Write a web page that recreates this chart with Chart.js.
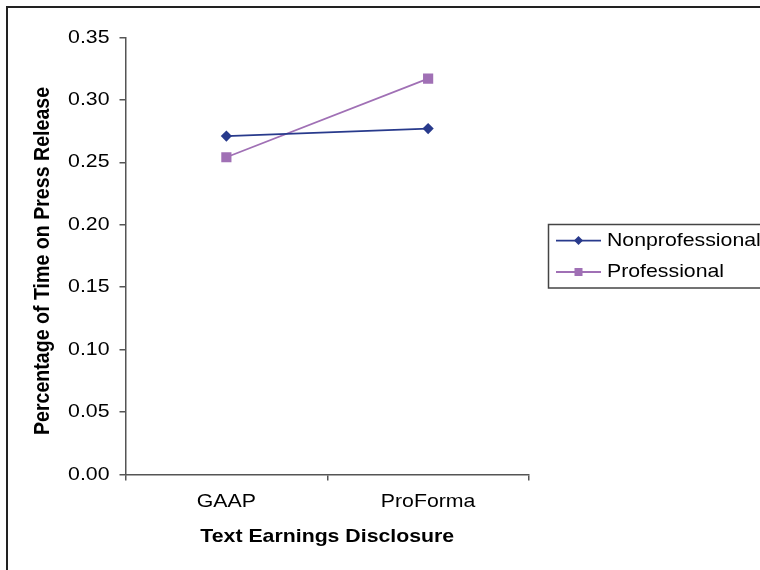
<!DOCTYPE html>
<html>
<head>
<meta charset="utf-8">
<script src="https://cdn.jsdelivr.net/npm/chart.js@4/dist/chart.umd.min.js"></script>
<style>
  html, body { margin: 0; padding: 0; background: #ffffff; }
  #wrap { position: relative; width: 760px; height: 570px; overflow: hidden; }
  canvas { display: block; }
</style>
</head>
<body>
<div id="wrap"><canvas id="chart" width="760" height="570"></canvas></div>
<script>
// Categories and series values
const categories = ['GAAP', 'ProForma'];
const nonprofessional = [0.271, 0.277];
const professional = [0.254, 0.317];
const seriesNames = ['Nonprofessional', 'Professional'];
const yTickValues = [0, 0.05, 0.10, 0.15, 0.20, 0.25, 0.30, 0.35];
const xAxisTitle = 'Text Earnings Disclosure';
const yAxisTitle = 'Percentage of Time on Press Release';

const NAVY = '#283a8c';
const LILAC = '#a070b5';
const AXIS = '#555555';
const FONT = '"Liberation Sans", Arial, sans-serif';
const SX = 1.12; // horizontal text stretch

function wideText(ctx, text, x, y, o) {
  ctx.save();
  ctx.translate(x, y);
  ctx.scale(SX, 1);
  if (o.rotate) ctx.rotate(o.rotate);
  ctx.font = o.font;
  ctx.fillStyle = o.color || '#000';
  ctx.textAlign = o.align || 'center';
  ctx.textBaseline = 'middle';
  ctx.fillText(text, 0, 0);
  ctx.restore();
}

// Labels, titles, legend and frame
const decorations = {
  id: 'decorations',
  afterDraw(chart) {
    const ctx = chart.ctx;
    const xs = chart.scales.x, ys = chart.scales.y;
    const reg = '19px ' + FONT, bold = 'bold 19px ' + FONT;

    yTickValues.forEach(v => {
      wideText(ctx, v.toFixed(2), ys.right - 16, ys.getPixelForValue(v), {font: reg, align: 'right'});
    });
    categories.forEach((c, i) => {
      wideText(ctx, c, xs.getPixelForValue(i), 502, {font: reg});
    });
    wideText(ctx, xAxisTitle, (xs.left + xs.right) / 2, 537, {font: bold});
    wideText(ctx, yAxisTitle, 42.5, 261, {font: 'bold 19.6px ' + FONT, rotate: -Math.PI / 2});

    // legend box
    ctx.save();
    ctx.strokeStyle = '#444';
    ctx.lineWidth = 1.5;
    ctx.strokeRect(548.5, 224.5, 260, 63.5);
    const rows = [240.6, 272];
    chart.data.datasets.forEach((ds, i) => {
      const y = rows[i];
      ctx.strokeStyle = ds.borderColor;
      ctx.lineWidth = ds.borderWidth;
      ctx.beginPath();
      ctx.moveTo(556, y); ctx.lineTo(601, y); ctx.stroke();
      ctx.fillStyle = ds.backgroundColor;
      const cx = 578.5;
      if (ds.pointStyle === 'rectRot') {
        ctx.beginPath();
        ctx.moveTo(cx - 4.5, y); ctx.lineTo(cx, y - 4.5); ctx.lineTo(cx + 4.5, y); ctx.lineTo(cx, y + 4.5);
        ctx.closePath(); ctx.fill();
      } else {
        ctx.fillRect(cx - 4, y - 4, 8, 8);
      }
      wideText(ctx, ds.label, 607, y, {font: reg, align: 'left'});
    });
    ctx.restore();

    // outer frame
    ctx.save();
    ctx.strokeStyle = '#222';
    ctx.lineWidth = 2;
    ctx.beginPath();
    ctx.moveTo(7, 600); ctx.lineTo(7, 7); ctx.lineTo(800, 7);
    ctx.stroke();
    ctx.restore();
  }
};

new Chart(document.getElementById('chart'), {
  type: 'line',
  data: {
    labels: categories,
    datasets: [
      {
        label: seriesNames[0], data: nonprofessional,
        borderColor: NAVY, backgroundColor: NAVY, borderWidth: 1.8,
        pointStyle: 'rectRot', pointRadius: 5.6, pointBorderWidth: 0,
        pointBackgroundColor: NAVY, pointBorderColor: NAVY
      },
      {
        label: seriesNames[1], data: professional,
        borderColor: LILAC, backgroundColor: LILAC, borderWidth: 1.8,
        pointStyle: 'rect', pointRadius: 7.2, pointBorderWidth: 0,
        pointBackgroundColor: LILAC, pointBorderColor: LILAC
      }
    ]
  },
  options: {
    responsive: false,
    animation: false,
    devicePixelRatio: 1,
    layout: { padding: { left: 0, top: 37.4, right: 231, bottom: 0 } },
    plugins: { legend: { display: false }, tooltip: { enabled: false }, title: { display: false } },
    scales: {
      x: {
        type: 'category',
        offset: true,
        grid: { offset: true, drawOnChartArea: false, drawTicks: true, tickLength: 6, color: AXIS, lineWidth: 1.5 },
        border: { color: AXIS, width: 1.5 },
        ticks: { display: false },
        afterFit(s) { s.height = 570 - 474.4; }
      },
      y: {
        min: 0, max: 0.35,
        afterBuildTicks(s) { s.ticks = yTickValues.map(v => ({ value: v })); },
        grid: { drawOnChartArea: false, drawTicks: true, tickLength: 6, color: AXIS, lineWidth: 1.5 },
        border: { color: AXIS, width: 1.5 },
        ticks: { display: false },
        afterFit(s) { s.width = 125.5; }
      }
    }
  },
  plugins: [decorations]
});
</script>
</body>
</html>
